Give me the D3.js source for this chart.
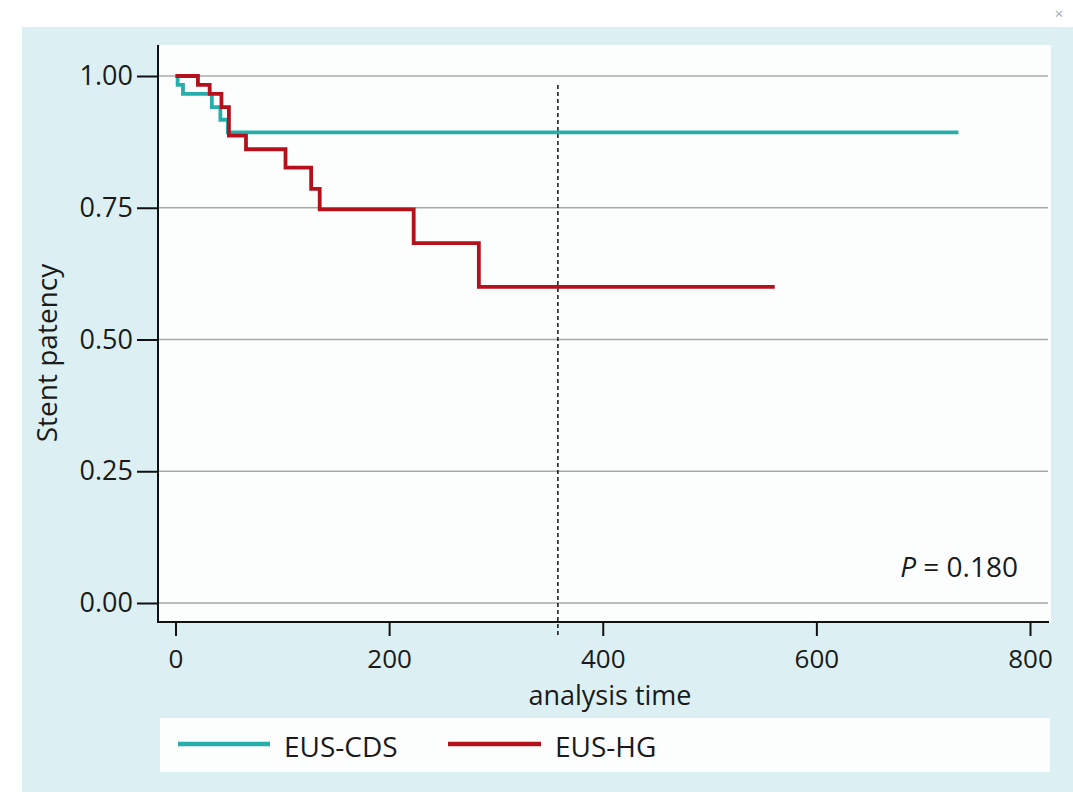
<!DOCTYPE html>
<html><head><meta charset="utf-8">
<script src="https://cdn.jsdelivr.net/npm/d3@7"></script>
<style>
html,body{margin:0;padding:0;background:#fff;}
svg{display:block;font-family:"Open Sans","Noto Sans",sans-serif;}
</style></head>
<body><svg id="c" width="1073" height="792"></svg>
<script>
// ---- data ----
const cdsTimes = [0, 2, 7, 34, 42, 49, 733];
const cdsSurv  = [1, 0.983, 0.966, 0.941, 0.917, 0.893, 0.893];
const hgTimes  = [0, 21, 32, 43, 50, 66, 103, 127, 135, 223, 284, 561];
const hgSurv   = [1, 0.983, 0.966, 0.941, 0.887, 0.861, 0.826, 0.786, 0.747, 0.683, 0.600, 0.600];
const xTicks = [0, 200, 400, 600, 800];
const yTicks = [0, 0.25, 0.5, 0.75, 1];
const seriesNames = ["EUS-CDS", "EUS-HG"];
const refTime = 358;
const pText = "0.180";

const svg = d3.select("#c");
const teal = "#27aeab", red = "#b4111c";
const ink = "#1a1a1a";

// backgrounds
svg.append("rect").attr("x",0).attr("y",0).attr("width",1073).attr("height",792).attr("fill","#ffffff");
svg.append("rect").attr("x",22).attr("y",27).attr("width",1051).attr("height",765).attr("fill","#dcf0f3");
svg.append("rect").attr("x",159).attr("y",45).attr("width",892).attr("height",577).attr("fill","#fcfefe");
svg.append("text").attr("x",1059).attr("y",19).attr("text-anchor","middle").attr("font-size",15).attr("fill","#aaa").text("×");

const x = d3.scaleLinear().domain([0,800]).range([175.5,1030]);
const y = d3.scaleLinear().domain([0,1]).range([603,76]);

// gridlines
svg.append("g").selectAll("line").data(yTicks).join("line")
  .attr("x1",158).attr("x2",1048).attr("y1",d=>y(d)).attr("y2",d=>y(d))
  .attr("stroke","#a8a8a8").attr("stroke-width",1.5);

// axes
const yAxis = svg.append("g").attr("transform","translate(158,0)")
  .call(d3.axisLeft(y).tickValues(yTicks).tickFormat(d3.format(".2f")).tickSize(21).tickPadding(4));
const xAxis = svg.append("g").attr("transform","translate(0,622)")
  .call(d3.axisBottom(x).tickValues(xTicks).tickFormat(d3.format("d")).tickSize(14).tickPadding(14));
[yAxis,xAxis].forEach(g=>{
  g.select(".domain").remove();
  g.selectAll(".tick line").attr("stroke","#111").attr("stroke-width",2);
  g.selectAll(".tick text").attr("font-size",27).attr("fill",ink).attr("font-family","'Open Sans','Noto Sans',sans-serif");
});
xAxis.selectAll(".tick text").attr("font-size",26);
svg.append("line").attr("x1",158).attr("x2",158).attr("y1",45).attr("y2",623).attr("stroke","#111").attr("stroke-width",2);
svg.append("line").attr("x1",157).attr("x2",1049).attr("y1",622).attr("y2",622).attr("stroke","#111").attr("stroke-width",2);

// reference dashed line
svg.append("line").attr("x1",x(refTime)).attr("x2",x(refTime)).attr("y1",85).attr("y2",638)
  .attr("stroke","#111").attr("stroke-width",1.5).attr("stroke-dasharray","4,3");

// curves
const line = d3.line().x(d=>x(d[0])).y(d=>y(d[1])).curve(d3.curveStepAfter);
svg.append("path").datum(cdsTimes.map((t,i)=>[t,cdsSurv[i]]))
  .attr("d",line).attr("fill","none").attr("stroke",teal).attr("stroke-width",3.8);
svg.append("path").datum(hgTimes.map((t,i)=>[t,hgSurv[i]]))
  .attr("d",line).attr("fill","none").attr("stroke",red).attr("stroke-width",3.8);

// labels
svg.append("text").attr("transform","translate(57,353) rotate(-90)").attr("text-anchor","middle")
  .attr("font-size",28).attr("fill",ink).text("Stent patency");
svg.append("text").attr("x",610).attr("y",705).attr("text-anchor","middle")
  .attr("font-size",27).attr("fill",ink).text("analysis time");
const pt = svg.append("text").attr("x",1018).attr("y",577).attr("text-anchor","end")
  .attr("font-size",28).attr("fill",ink);
pt.append("tspan").attr("font-style","italic").text("P");
pt.append("tspan").text(" = " + pText);

// legend
svg.append("rect").attr("x",160).attr("y",718).attr("width",890).attr("height",54).attr("fill","#fcfefe");
const leg = [{n:seriesNames[0],c:teal,x:178,w:92},{n:seriesNames[1],c:red,x:448,w:93}];
leg.forEach(l=>{
  svg.append("line").attr("x1",l.x).attr("x2",l.x+l.w).attr("y1",744).attr("y2",744).attr("stroke",l.c).attr("stroke-width",4.5);
  svg.append("text").attr("x",l.x+l.w+14).attr("y",757).attr("font-size",28).attr("fill",ink).text(l.n);
});
</script></body></html>
